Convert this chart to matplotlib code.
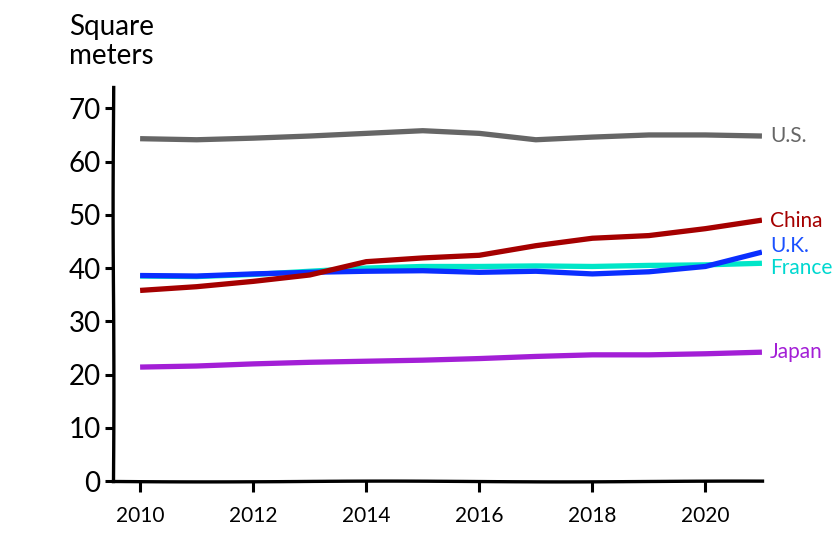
import matplotlib
matplotlib.use("Agg")
import matplotlib.pyplot as plt

# data (square meters of living space per person)
years = list(range(2010, 2022))
us = [64.3, 64.1, 64.4, 64.8, 65.3, 65.8, 65.3, 64.1, 64.6, 65.0, 65.0, 64.8]
china = [35.8, 36.5, 37.5, 38.7, 41.2, 41.9, 42.4, 44.2, 45.6, 46.1, 47.4, 49.0]
uk = [38.6, 38.5, 38.9, 39.2, 39.4, 39.5, 39.2, 39.4, 38.9, 39.3, 40.3, 43.0]
france = [38.5, 38.4, 38.8, 39.4, 40.0, 40.3, 40.3, 40.4, 40.3, 40.5, 40.6, 40.9]
japan = [21.4, 21.6, 22.0, 22.3, 22.5, 22.7, 23.0, 23.4, 23.7, 23.7, 23.9, 24.2]

series = [
    ("France", france, "#00e6c8", "#00d8d0", 40.1),
    ("U.K.", uk, "#0a2eff", "#1a50ff", 44.2),
    ("China", china, "#a50000", "#a50000", 48.9),
    ("U.S.", us, "#666666", "#666666", 64.8),
    ("Japan", japan, "#a31fd6", "#a31fd6", 24.2),
]

plt.rcParams['font.family'] = ['Lato', 'DejaVu Sans']

fig = plt.figure(figsize=(8.35, 5.35), dpi=100)
ax = fig.add_axes([0.1353, 0.1009, 0.7772, 0.7364])

for name, vals, color, tcolor, ylab in series:
    ax.plot(years, vals, color=color, lw=3.8, solid_capstyle='butt', zorder=3)
    ax.text(2021.14, ylab, name, color=tcolor, fontsize=15, va='center', ha='left', clip_on=False)

ax.set_xlim(2009.52, 2021.0)
ax.set_ylim(0, 74)
ax.set_yticks(range(0, 71, 10))
ax.set_xticks(range(2010, 2021, 2))

for side in ['top', 'right']:
    ax.spines[side].set_visible(False)
for side in ['left', 'bottom']:
    ax.spines[side].set_linewidth(2.4)
    ax.spines[side].set_sketch_params(scale=0.4, length=400, randomness=2)

ax.tick_params(axis='y', direction='out', length=6, width=2.2, labelsize=20, pad=3)
ax.tick_params(axis='x', direction='out', length=8, width=2.2, labelsize=15, pad=10)

fig.text(69 / 835, 1 - 14 / 535, "Square\nmeters", fontsize=20, va='top', ha='left', linespacing=1.15)

fig.savefig("out.png", dpi=100)
